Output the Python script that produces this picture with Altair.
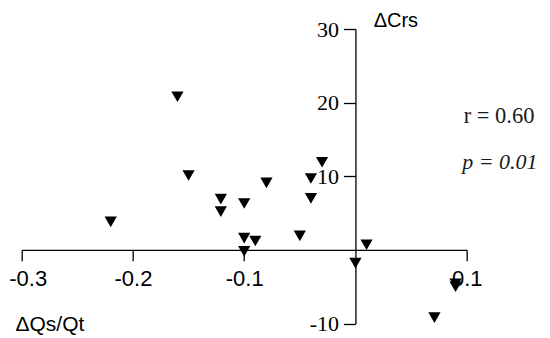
import altair as alt
import pandas as pd

dqs = [-0.160, -0.150, -0.220, -0.121, -0.121, -0.100, -0.100, -0.100, -0.090, -0.080,
       -0.050, -0.040, -0.040, -0.030, 0.000, 0.010, 0.090, 0.090, 0.071]
dcrs = [20.8, 10.1, 3.8, 6.9, 5.2, 6.3, 1.6, -0.2, 1.2, 9.1,
        1.9, 7.0, 9.7, 11.9, -1.8, 0.7, -4.6, -5.0, -9.2]

x_ticks = [-0.3, -0.2, -0.1, 0.1]
y_ticks = [-10, 10, 20, 30]
notes = ["r = 0.60", "p = 0.01"]

df = pd.DataFrame({"dqs": dqs, "dcrs": dcrs})

W, H = 445, 294.5
X0 = W * 0.75
Y0 = H * 0.75

x_enc = alt.X(
    "dqs:Q",
    scale=alt.Scale(domain=[-0.3, 0.1], nice=False, zero=False),
    axis=alt.Axis(
        values=x_ticks, orient="bottom", offset=-(H - Y0), grid=False,
        domainColor="black", domainWidth=1.3, tickColor="black", tickWidth=1.3, tickSize=11,
        labelFont="Liberation Sans", labelFontSize=22, labelColor="black", labelPadding=8,
        labelFlush=False, labelOverlap=False,
        labelOffset={"condition": {"test": "datum.value < -0.25", "value": 6}, "value": 0},
        labelExpr="datum.value < 0 ? '-' + format(-datum.value, '.1f') : format(datum.value, '.1f')",
        title="ΔQs/Qt", titleFont="Liberation Sans", titleFontSize=21, titleFontWeight="normal",
        titleColor="black", titleX=-6.7, titleY=74.5, titleAlign="left", titleBaseline="middle",
        titleAnchor="start",
    ),
)
y_enc = alt.Y(
    "dcrs:Q",
    scale=alt.Scale(domain=[-10, 30], nice=False, zero=False),
    axis=alt.Axis(
        values=y_ticks, orient="left", offset=-X0, grid=False,
        domainColor="black", domainWidth=1.3, tickColor="black", tickWidth=1.3, tickSize=12,
        labelFont="Liberation Serif", labelFontSize=22, labelColor="black", labelPadding=5,
        labelFlush=False, labelOverlap=False,
        labelExpr="datum.value < 0 ? '-' + format(-datum.value, 'd') : format(datum.value, 'd')",
        title="ΔCrs", titleFont="Liberation Sans", titleFontSize=20, titleFontWeight="normal",
        titleColor="black", titleAngle=0, titleX=17.7, titleY=-8.5, titleAlign="left",
        titleBaseline="middle", titleAnchor="start",
    ),
)

points = alt.Chart(df).mark_point(
    shape="triangle-down", filled=True, color="black", opacity=1, size=150
).encode(x=x_enc, y=y_enc)

r_text = alt.Chart(pd.DataFrame({"t": [notes[0]]})).mark_text(
    font="Liberation Serif", fontSize=22.5, color="#1a1a1a", align="left", baseline="middle"
).encode(text="t:N", x=alt.value(442), y=alt.value(87))

p_text = alt.Chart(pd.DataFrame({"t": [notes[1]]})).mark_text(
    font="Liberation Serif", fontSize=22, color="#1a1a1a", align="left", baseline="middle",
    fontStyle="italic"
).encode(text="t:N", x=alt.value(440.5), y=alt.value(132.7))

chart = alt.layer(points, r_text, p_text).properties(
    width=W, height=H,
    autosize=alt.AutoSizeParams(type="none"),
    padding={"left": 13.7, "top": 21, "right": 75, "bottom": 16},
).configure(background="white").configure_view(stroke=None)

chart.save("out.html", embed_options={"renderer": "svg", "actions": False})
